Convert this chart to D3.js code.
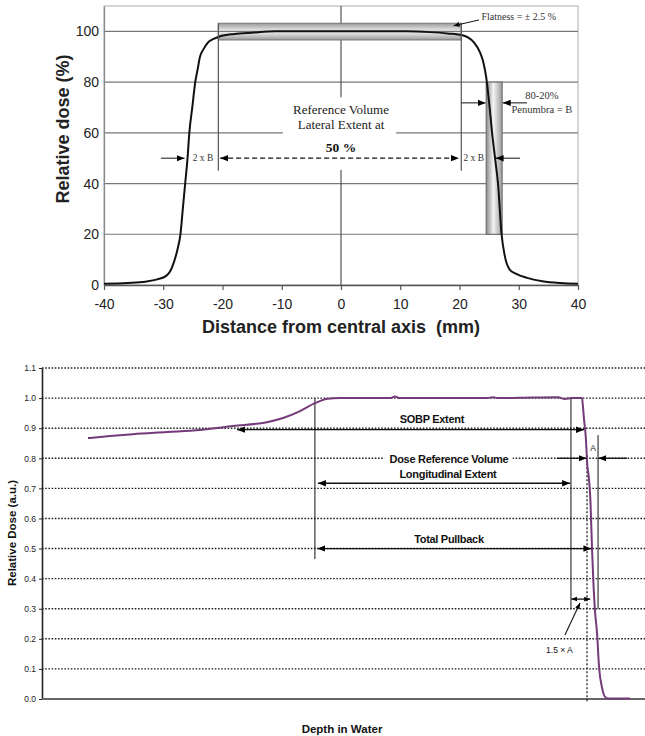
<!DOCTYPE html>
<html>
<head>
<meta charset="utf-8">
<script src="https://cdn.jsdelivr.net/npm/d3@7"></script>
<style>
  body { margin: 0; background: #fff; }
  svg { display: block; }
</style>
</head>
<body>
<script>
// lateral profile (top chart) - distance in mm, dose in %
const profileX = [-40, -36, -33, -31, -29.5, -28.8, -28.2, -27.6, -27.1, -26.7, -26.3, -25.9, -25.6, -25.1, -24.6, -24.2, -23.8, -23.2, -22.5, -21.5,
  -20.5, -18, -15, -11, 0, 11, 15, 18, 20.5, 21.5, 22.5, 23.4, 24, 24.5, 25, 25.5, 26, 26.5, 27.1, 27.6, 28.5, 29.5, 31.4, 34, 37, 40];
const profileY = [0.5, 0.8, 1.3, 2.2, 3.6, 5.5, 9, 14, 20, 30, 40, 50, 60, 70, 80, 85, 90, 93, 95.5, 97,
  98, 99, 99.5, 100, 100, 100, 99.7, 99.2, 98.5, 97.5, 95.5, 92, 88, 82, 72, 60, 50, 40, 20, 12, 6, 4.5, 2.8, 1.5, 0.8, 0.5];
const profileTicksX = [-40, -30, -20, -10, 0, 10, 20, 30, 40];
const profileTicksY = [0, 20, 40, 60, 80, 100];

// depth dose (bottom chart) - depth in mm, dose in a.u.
const depthX = [22.9, 33.9, 45.3, 62.3, 78.7, 95.2, 112.1, 120.1, 128.6, 136.0, 142.5, 148.5, 173.4, 175.9, 178.4, 222, 224.7, 227,
  244.7, 257.1, 260.6, 264.1, 269.1, 269.6, 270.1, 271.1, 271.6, 272.6, 273.3, 274.1, 274.8, 275.6, 276.6, 277.6, 279.1, 280.6, 282.1, 293];
const depthY = [0.867, 0.874, 0.880, 0.887, 0.894, 0.907, 0.920, 0.934, 0.957, 0.983, 0.998, 1.0, 1.0, 1.005, 1.0, 1.0, 1.003, 1.0,
  1.002, 1.003, 0.997, 1.0, 1.0, 0.97, 0.93, 0.86, 0.79, 0.73, 0.66, 0.50, 0.385, 0.29, 0.22, 0.106, 0.037, 0.007, 0.002, 0.002];
const depthTicksY = [0, 0.1, 0.2, 0.3, 0.4, 0.5, 0.6, 0.7, 0.8, 0.9, 1.0, 1.1];

const svg = d3.select("body").append("svg")
  .attr("width", 645)
  .attr("height", 736);

const defs = svg.append("defs");

function addMarker(id, size) {
  defs.append("marker")
    .attr("id", id)
    .attr("viewBox", "0 0 10 10")
    .attr("refX", 10).attr("refY", 5)
    .attr("markerUnits", "userSpaceOnUse")
    .attr("markerWidth", size).attr("markerHeight", size)
    .attr("orient", "auto-start-reverse")
    .append("path")
    .attr("d", "M0,1 L10,5 L0,9 Z")
    .attr("fill", "#000");
}
addMarker("arr", 8);
addMarker("arrs", 6);

const gv = defs.append("linearGradient").attr("id", "bandV").attr("x1", 0).attr("y1", 0).attr("x2", 0).attr("y2", 1);
gv.append("stop").attr("offset", "0%").attr("stop-color", "#9a9a9a");
gv.append("stop").attr("offset", "50%").attr("stop-color", "#f2f2f2");
gv.append("stop").attr("offset", "100%").attr("stop-color", "#9a9a9a");

const gh = defs.append("linearGradient").attr("id", "bandH").attr("x1", 0).attr("y1", 0).attr("x2", 1).attr("y2", 0);
gh.append("stop").attr("offset", "0%").attr("stop-color", "#8a8a8a");
gh.append("stop").attr("offset", "45%").attr("stop-color", "#f4f4f4");
gh.append("stop").attr("offset", "100%").attr("stop-color", "#9a9a9a");

// ---------------- top chart ----------------
const xP = d3.scaleLinear().domain([-40, 40]).range([104, 578]);
const yP = d3.scaleLinear().domain([0, 110]).range([285, 6]);
const g1 = svg.append("g");

g1.append("rect")
  .attr("x", xP(-40)).attr("y", yP(110))
  .attr("width", xP(40) - xP(-40)).attr("height", yP(0) - yP(110))
  .attr("fill", "none").attr("stroke", "#aaa");

g1.selectAll(".gridP")
  .data(profileTicksY.filter(d => d > 0))
  .enter().append("line")
  .attr("x1", xP(-40)).attr("x2", xP(40))
  .attr("y1", d => yP(d)).attr("y2", d => yP(d))
  .attr("stroke", "#777").attr("stroke-width", 1.2);

// centre axis line
g1.append("line")
  .attr("x1", xP(0)).attr("x2", xP(0))
  .attr("y1", yP(110)).attr("y2", yP(0))
  .attr("stroke", "#555").attr("stroke-width", 1.2);

// flatness band
g1.append("rect")
  .attr("x", xP(-20.7)).attr("y", yP(103.2))
  .attr("width", xP(20.3) - xP(-20.7)).attr("height", yP(96.6) - yP(103.2))
  .attr("fill", "url(#bandV)").attr("stroke", "#777");
g1.append("line")
  .attr("x1", xP(-20.7)).attr("x2", xP(20.3))
  .attr("y1", yP(100)).attr("y2", yP(100))
  .attr("stroke", "#666");

// penumbra band
g1.append("rect")
  .attr("x", xP(24.5)).attr("y", yP(80))
  .attr("width", xP(27.2) - xP(24.5)).attr("height", yP(20) - yP(80))
  .attr("fill", "url(#bandH)").attr("stroke", "#666");

// axes
const axB = g1.append("g")
  .attr("transform", "translate(0," + yP(0) + ")")
  .call(d3.axisBottom(xP).tickValues(profileTicksX).tickSize(5).tickSizeOuter(0).tickPadding(9)
    .tickFormat(d => String(d)));
axB.select(".domain").attr("stroke", "#555").attr("stroke-width", 1.6);
axB.selectAll(".tick line").attr("stroke", "#555").attr("stroke-width", 1.2);
axB.selectAll("text").attr("font-family", "Liberation Sans, Arial, sans-serif").attr("font-size", 14).attr("fill", "#222");

const axL = g1.append("g")
  .attr("transform", "translate(" + xP(-40) + ",0)")
  .call(d3.axisLeft(yP).tickValues(profileTicksY).tickSize(0).tickPadding(5));
axL.select(".domain").attr("stroke", "#888").attr("stroke-width", 1.2);
axL.selectAll("text").attr("font-family", "Liberation Sans, Arial, sans-serif").attr("font-size", 14).attr("fill", "#222");

// profile curve
g1.append("path")
  .datum(profileX.map((d, i) => [d, profileY[i]]))
  .attr("fill", "none").attr("stroke", "#111").attr("stroke-width", 2)
  .attr("d", d3.line().x(d => xP(d[0])).y(d => yP(d[1])).curve(d3.curveMonotoneX));

// white box behind central text
g1.append("rect")
  .attr("x", xP(-9.8)).attr("y", yP(74))
  .attr("width", xP(9.3) - xP(-9.8)).attr("height", yP(45.4) - yP(74))
  .attr("fill", "#fff");

// reference volume edges
[-20.7, 20.3].forEach(v => {
  g1.append("line")
    .attr("x1", xP(v)).attr("x2", xP(v))
    .attr("y1", yP(103.2)).attr("y2", yP(45))
    .attr("stroke", "#555").attr("stroke-width", 1.2);
});

const serif = "Liberation Serif, Times New Roman, serif";

g1.append("text").attr("x", xP(0)).attr("y", yP(67.5)).attr("text-anchor", "middle")
  .attr("font-family", serif).attr("font-size", 13).attr("fill", "#222").text("Reference Volume");
g1.append("text").attr("x", xP(0)).attr("y", yP(61.6)).attr("text-anchor", "middle")
  .attr("font-family", serif).attr("font-size", 13).attr("fill", "#222").text("Lateral Extent at");
g1.append("text").attr("x", xP(0)).attr("y", yP(52.5)).attr("text-anchor", "middle")
  .attr("font-family", serif).attr("font-size", 13.5).attr("font-weight", "bold").attr("fill", "#111").text("50 %");

// 2 x B dashed extent
g1.append("line")
  .attr("x1", xP(-20.4)).attr("x2", xP(19.9))
  .attr("y1", yP(50)).attr("y2", yP(50))
  .attr("stroke", "#111").attr("stroke-width", 1.3).attr("stroke-dasharray", "5,3")
  .attr("marker-start", "url(#arr)").attr("marker-end", "url(#arr)");
g1.append("line")
  .attr("x1", xP(-30.4)).attr("x2", xP(-26.4))
  .attr("y1", yP(50)).attr("y2", yP(50))
  .attr("stroke", "#111").attr("marker-end", "url(#arr)");
g1.append("line")
  .attr("x1", xP(30.2)).attr("x2", xP(26.1))
  .attr("y1", yP(50)).attr("y2", yP(50))
  .attr("stroke", "#111").attr("marker-end", "url(#arr)");
g1.append("text").attr("x", xP(-23.3)).attr("y", yP(48.8)).attr("text-anchor", "middle")
  .attr("font-family", serif).attr("font-size", 9.5).attr("fill", "#333").text("2 x B");
g1.append("text").attr("x", xP(22.4)).attr("y", yP(48.8)).attr("text-anchor", "middle")
  .attr("font-family", serif).attr("font-size", 9.5).attr("fill", "#333").text("2 x B");

// penumbra arrows + text
g1.append("line")
  .attr("x1", xP(20.3)).attr("x2", xP(24.4))
  .attr("y1", yP(71.8)).attr("y2", yP(71.8))
  .attr("stroke", "#111").attr("marker-end", "url(#arr)");
g1.append("line")
  .attr("x1", xP(31.4)).attr("x2", xP(27.3))
  .attr("y1", yP(71.8)).attr("y2", yP(71.8))
  .attr("stroke", "#111").attr("marker-end", "url(#arr)");
g1.append("text").attr("x", xP(33.9)).attr("y", yP(73.2)).attr("text-anchor", "middle")
  .attr("font-family", serif).attr("font-size", 10.5).attr("fill", "#333").text("80-20%");
g1.append("text").attr("x", xP(33.9)).attr("y", yP(67.8)).attr("text-anchor", "middle")
  .attr("font-family", serif).attr("font-size", 10.5).attr("fill", "#333").text("Penumbra = B");

// flatness label
g1.append("line")
  .attr("x1", xP(23.3)).attr("x2", xP(19)).attr("y1", yP(104.5)).attr("y2", yP(102.2))
  .attr("stroke", "#111").attr("marker-end", "url(#arrs)");
g1.append("text").attr("x", xP(23.7)).attr("y", yP(104.6))
  .attr("font-family", serif).attr("font-size", 10).attr("fill", "#333").text("Flatness = ± 2.5 %");

// axis titles
svg.append("text")
  .attr("transform", "translate(69,129) rotate(-90)")
  .attr("text-anchor", "middle")
  .attr("font-family", "Liberation Sans, Arial, sans-serif").attr("font-size", 18).attr("font-weight", "bold")
  .attr("fill", "#222").text("Relative dose (%)");
svg.append("text")
  .attr("x", 341).attr("y", 333).attr("text-anchor", "middle")
  .attr("xml:space", "preserve").style("white-space", "pre")
  .attr("font-family", "Liberation Sans, Arial, sans-serif").attr("font-size", 18).attr("font-weight", "bold")
  .attr("fill", "#222").text("Distance from central axis  (mm)");

// ---------------- bottom chart ----------------
const xD = d3.scaleLinear().domain([0, 300]).range([42, 644]);
const yD = d3.scaleLinear().domain([0, 1.1]).range([699, 368]);
const g2 = svg.append("g");
const sans = "Liberation Sans, Arial, sans-serif";

g2.selectAll(".gridD")
  .data(depthTicksY.filter(d => d > 0))
  .enter().append("line")
  .attr("x1", xD(0)).attr("x2", 645)
  .attr("y1", d => yD(d)).attr("y2", d => yD(d))
  .attr("stroke", "#222").attr("stroke-width", 1.4).attr("stroke-dasharray", "1.6,1.6");

// white gap behind label on 0.8 line
g2.append("rect")
  .attr("x", xD(170.5)).attr("y", yD(0.815))
  .attr("width", xD(234.5) - xD(170.5)).attr("height", yD(0.77) - yD(0.815))
  .attr("fill", "#fff");

const axDL = g2.append("g")
  .attr("transform", "translate(" + xD(0) + ",0)")
  .call(d3.axisLeft(yD).tickValues(depthTicksY).tickSize(3).tickSizeOuter(0).tickPadding(3)
    .tickFormat(d3.format(".1f")));
axDL.select(".domain").attr("stroke", "#222").attr("stroke-width", 1.6);
axDL.selectAll(".tick line").attr("stroke", "#222");
axDL.selectAll("text").attr("font-family", sans).attr("font-size", 8.5).attr("fill", "#222");

g2.append("line")
  .attr("x1", xD(0)).attr("x2", 645)
  .attr("y1", yD(0)).attr("y2", yD(0))
  .attr("stroke", "#666").attr("stroke-width", 2);

// vertical guide lines
[[136, 1.0, 0.465], [263.6, 1.0, 0.3], [277.1, 0.877, 0.3]].forEach(v => {
  g2.append("line")
    .attr("x1", xD(v[0])).attr("x2", xD(v[0]))
    .attr("y1", yD(v[1])).attr("y2", yD(v[2]))
    .attr("stroke", "#111").attr("stroke-width", 1);
});
g2.append("line")
  .attr("x1", xD(271.6)).attr("x2", xD(271.6))
  .attr("y1", yD(0.81)).attr("y2", yD(-0.01))
  .attr("stroke", "#222").attr("stroke-width", 1.3).attr("stroke-dasharray", "2,2");

// depth dose curve
g2.append("path")
  .datum(depthX.map((d, i) => [d, depthY[i]]))
  .attr("fill", "none").attr("stroke", "#743a7a").attr("stroke-width", 2)
  .attr("d", d3.line().x(d => xD(d[0])).y(d => yD(d[1])).curve(d3.curveMonotoneX));

// arrows
function arrow(x1, x2, y, both, mk) {
  const l = g2.append("line")
    .attr("x1", xD(x1)).attr("x2", xD(x2))
    .attr("y1", yD(y)).attr("y2", yD(y))
    .attr("stroke", "#111").attr("stroke-width", 1.3)
    .attr("marker-end", "url(#" + (mk || "arr") + ")");
  if (both) l.attr("marker-start", "url(#" + (mk || "arr") + ")");
}
arrow(97.2, 270.1, 0.895, true);
arrow(256.6, 271.4, 0.8, false);
arrow(291.5, 277.3, 0.8, false);
arrow(137.5, 263.2, 0.717, true);
arrow(137.2, 273.8, 0.5, true);
arrow(263.8, 273.2, 0.332, true, "arrs");

g2.append("line")
  .attr("x1", xD(260.6)).attr("x2", xD(268.1))
  .attr("y1", yD(0.2126)).attr("y2", yD(0.319))
  .attr("stroke", "#222").attr("stroke-width", 1.2).attr("marker-end", "url(#arrs)");

function label(t, x, y, size, bold, anchor) {
  g2.append("text")
    .attr("x", xD(x)).attr("y", yD(y))
    .attr("text-anchor", anchor || "middle")
    .attr("font-family", sans).attr("font-size", size)
    .attr("font-weight", bold ? "bold" : "normal")
    .attr("letter-spacing", bold ? -0.3 : 0)
    .attr("fill", "#111").text(t);
}
label("SOBP Extent", 194.3, 0.916, 11, true);
label("Dose Reference Volume", 202.8, 0.784, 11, true);
label("Longitudinal Extent", 202.3, 0.735, 11, true);
label("Total Pullback", 202.8, 0.518, 11, true);
label("A", 274.6, 0.823, 8.5, false);
label("1.5 × A", 251.2, 0.153, 8.5, false, "start");

svg.append("text")
  .attr("transform", "translate(16,533) rotate(-90)")
  .attr("text-anchor", "middle")
  .attr("font-family", sans).attr("font-size", 11.5).attr("font-weight", "bold")
  .attr("fill", "#111").text("Relative Dose (a.u.)");
svg.append("text")
  .attr("x", 342).attr("y", 733).attr("text-anchor", "middle")
  .attr("font-family", sans).attr("font-size", 11.5).attr("font-weight", "bold")
  .attr("fill", "#111").text("Depth in Water");
</script>
</body>
</html>
